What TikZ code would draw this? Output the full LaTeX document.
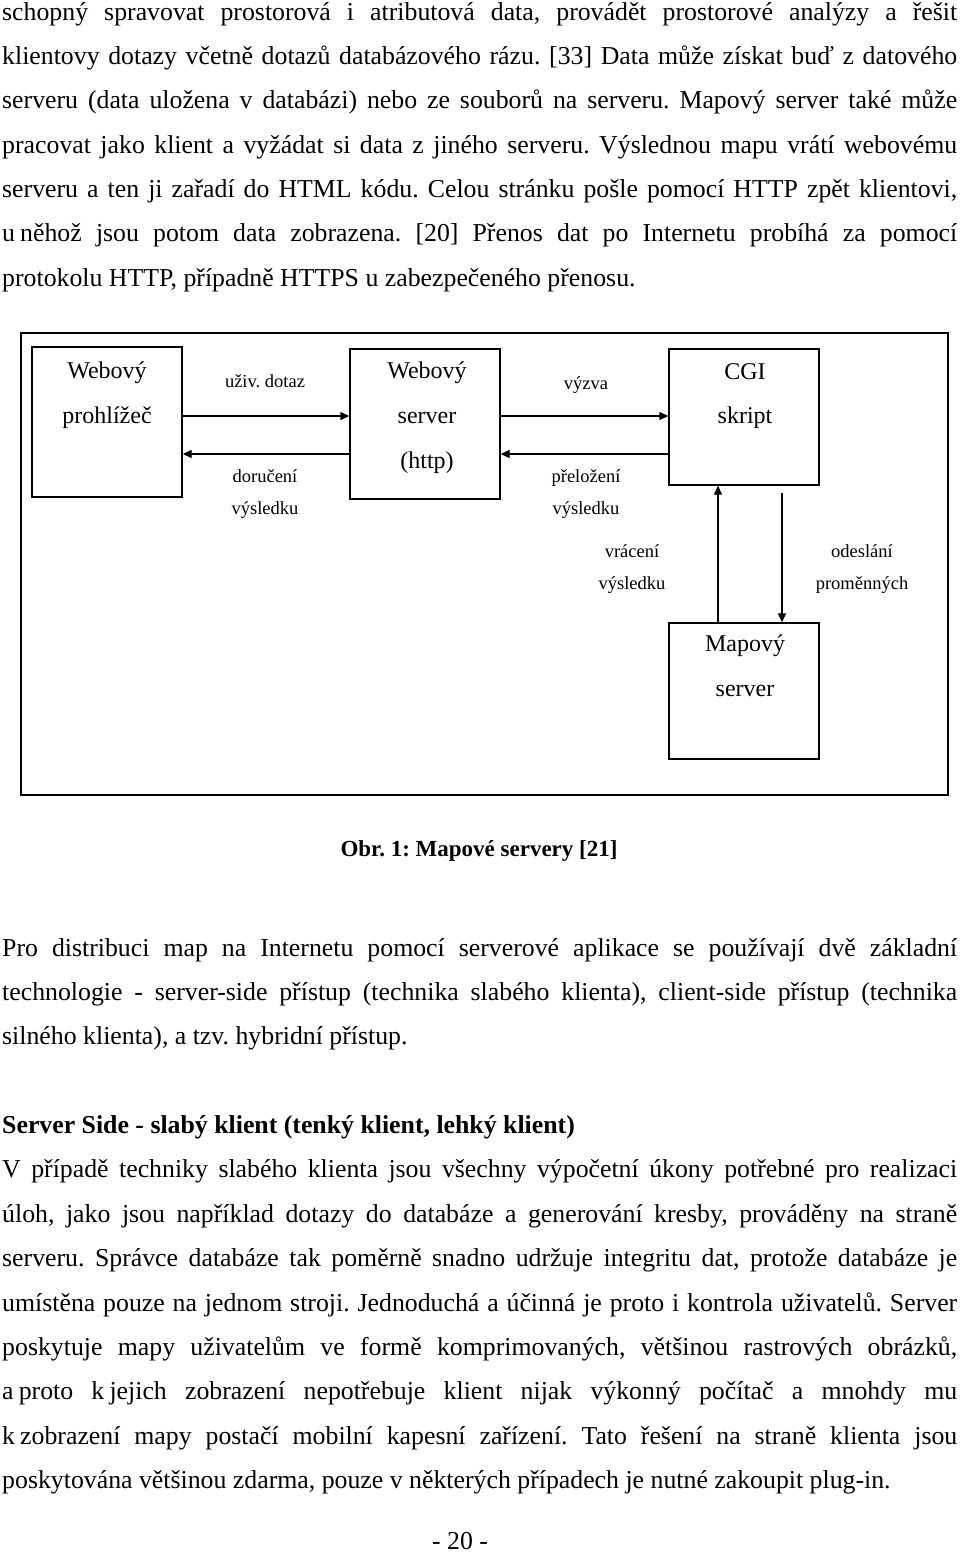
\documentclass[tikz,border=0pt]{standalone}
\usepackage{fontspec}
\usetikzlibrary{arrows.meta,calc}
\newfontfamily\bodyfont{Liberation Serif}
\newfontfamily\diagfont{Liberation Serif}
\newcommand\jl[1]{\makebox[955pt][s]{#1}}
\newcommand\nsp{\hspace{0.2em}}
\frenchspacing
\begin{document}
\begin{tikzpicture}[x=1pt,y=-1pt,
  txt/.style={anchor=base west,inner sep=0pt,font=\bodyfont\frenchspacing\fontsize{25.8}{30}\selectfont},
  btxt/.style={anchor=base west,inner sep=0pt,font=\bodyfont\frenchspacing\bfseries\fontsize{25.8}{30}\selectfont},
  captxt/.style={anchor=base,inner sep=0pt,font=\bodyfont\frenchspacing\bfseries\fontsize{23}{26}\selectfont},
  box/.style={draw,line width=1.4pt,minimum width=150pt,inner sep=0pt},
  frame/.style={draw,line width=1.4pt,inner sep=0pt},
  boxlabel/.style={inner sep=0pt,font=\diagfont\fontsize{24}{24}\selectfont,text height=17pt,text depth=5pt},
  arrlabel/.style={inner sep=0pt,font=\diagfont\fontsize{18.5}{18.5}\selectfont,text height=13pt,text depth=4pt},
  arr/.style={line width=1.4pt,-{Triangle[length=9pt,width=8pt]}}
]
\useasboundingbox (0,0) rectangle (960,1553);
\fill[white] (0,0) rectangle (960,1553);

% paragraph 1
\node[txt] (p1a) at (2,20) {\jl{schopný spravovat prostorová i atributová data, provádět prostorové analýzy a řešit}};
\node[txt] (p1b) at (2,64) {\jl{klientovy dotazy včetně dotazů databázového rázu. [33] Data může získat buď z datového}};
\node[txt] (p1c) at (2,108) {\jl{serveru (data uložena v databázi) nebo ze souborů na serveru. Mapový server také může}};
\node[txt] (p1d) at (2,153) {\jl{pracovat jako klient a vyžádat si data z jiného serveru. Výslednou mapu vrátí webovému}};
\node[txt] (p1e) at (2,197) {\jl{serveru a ten ji zařadí do HTML kódu. Celou stránku pošle pomocí HTTP zpět klientovi,}};
\node[txt] (p1f) at (2,241) {\jl{\mbox{u\nsp něhož} jsou potom data zobrazena. [20] Přenos dat po Internetu probíhá za pomocí}};
\node[txt] (p1g) at (2,286) {protokolu HTTP, případně HTTPS u zabezpečeného přenosu.};

% diagram
\node[frame,minimum width=927pt,minimum height=462pt] (fr) at (484.5,564) {};
\node[box,minimum height=150pt] (wb) at (107,422) {};
\node[box,minimum height=150pt] (ws) at (425,424) {};
\node[box,minimum height=136pt] (cgi) at (744,417) {};
\node[box,minimum height=136pt] (ms) at (744,691) {};

\node[boxlabel] (wb1) at (107,372) {Webový};
\node[boxlabel] (wb2) at (107,417) {prohlížeč};
\node[boxlabel] (ws1) at (427,372) {Webový};
\node[boxlabel] (ws2) at (427,417) {server};
\node[boxlabel] (ws3) at (427,462) {(http)};
\node[boxlabel] (cg1) at (745,373) {CGI};
\node[boxlabel] (cg2) at (745,417) {skript};
\node[boxlabel] (ms1) at (745,645) {Mapový};
\node[boxlabel] (ms2) at (745,690) {server};

\draw[arr] ([yshift=6pt]wb.east) -- ([yshift=6pt]wb.east -| ws.west);
\draw[arr] ([yshift=-32pt]wb.east -| ws.west) -- ([yshift=-32pt]wb.east);
\draw[arr] ([yshift=8pt]ws.east) -- ([yshift=8pt]ws.east -| cgi.west);
\draw[arr] ([yshift=-37pt]cgi.west) -- ([yshift=-37pt]cgi.west -| ws.east);
\draw[arr] ([xshift=-26pt]ms.north) -- ([xshift=-26pt]ms.north |- cgi.south);
\coordinate (rs) at ([xshift=38pt,yshift=-7pt]cgi.south);
\draw[arr] (rs) -- (rs |- ms.north);

\node[arrlabel] (l1) at (265,383) {uživ. dotaz};
\node[arrlabel] (l2) at (265,478) {doručení};
\node[arrlabel] (l3) at (265,510) {výsledku};
\node[arrlabel] (l4) at (586,385) {výzva};
\node[arrlabel] (l5) at (586,478) {přeložení};
\node[arrlabel] (l6) at (586,510) {výsledku};
\node[arrlabel] (l7) at (632,553) {vrácení};
\node[arrlabel] (l8) at (632,585) {výsledku};
\node[arrlabel] (l9) at (862,553) {odeslání};
\node[arrlabel] (l10) at (862,585) {proměnných};

% caption
\node[captxt] (cap) at (479,856) {Obr. 1: Mapové servery [21]};

% paragraph 2
\node[txt] (p2a) at (2,956) {\jl{Pro distribuci map na Internetu pomocí serverové aplikace se používají dvě základní}};
\node[txt] (p2b) at (2,1000) {\jl{technologie - server-side přístup (technika slabého klienta), client-side přístup (technika}};
\node[txt] (p2c) at (2,1044) {silného klienta), a tzv. hybridní přístup.};

% heading
\node[btxt] (h) at (2,1133) {Server Side - slabý klient (tenký klient, lehký klient)};

% paragraph 3
\node[txt] (p3a) at (2,1177) {\jl{V případě techniky slabého klienta jsou všechny výpočetní úkony potřebné pro realizaci}};
\node[txt] (p3b) at (2,1222) {\jl{úloh, jako jsou například dotazy do databáze a generování kresby, prováděny na straně}};
\node[txt] (p3c) at (2,1266) {\jl{serveru. Správce databáze tak poměrně snadno udržuje integritu dat, protože databáze je}};
\node[txt] (p3d) at (2,1311) {\jl{umístěna pouze na jednom stroji. Jednoduchá a účinná je proto i kontrola uživatelů. Server}};
\node[txt] (p3e) at (2,1355) {\jl{poskytuje mapy uživatelům ve formě komprimovaných, většinou rastrových obrázků,}};
\node[txt] (p3f) at (2,1399) {\jl{\mbox{a\nsp proto} \mbox{k\nsp jejich} zobrazení nepotřebuje klient nijak výkonný počítač a mnohdy mu}};
\node[txt] (p3g) at (2,1444) {\jl{\mbox{k\nsp zobrazení} mapy postačí mobilní kapesní zařízení. Tato řešení na straně klienta jsou}};
\node[txt] (p3h) at (2,1488) {poskytována většinou zdarma, pouze v některých případech je nutné zakoupit plug-in.};

% page number
\node[txt,anchor=base] (pg) at (460,1549) {- 20 -};
\end{tikzpicture}
\end{document}
